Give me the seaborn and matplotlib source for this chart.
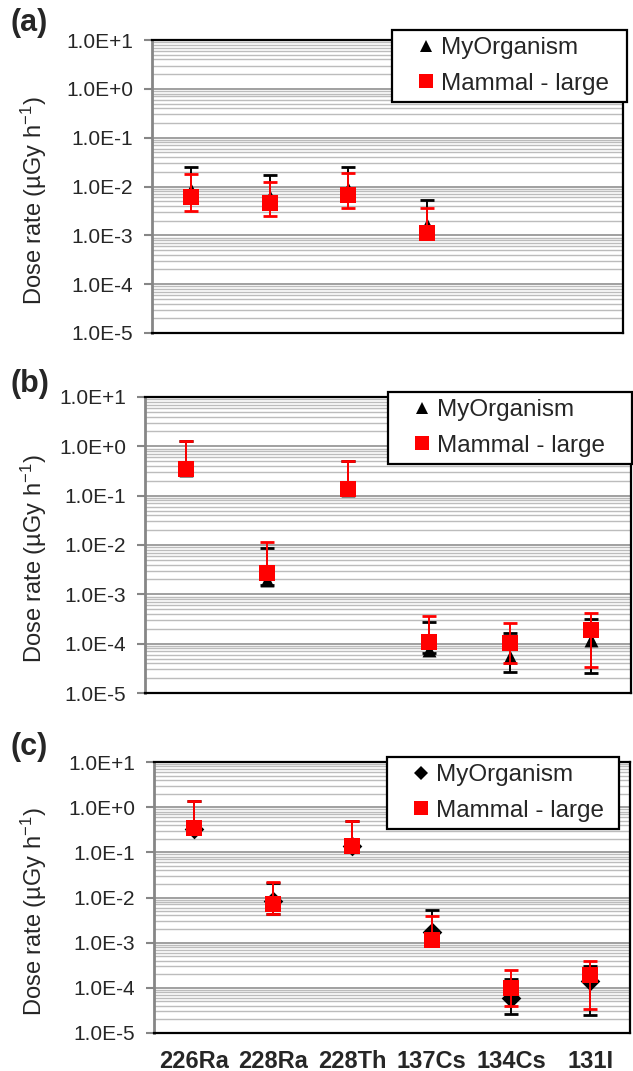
import numpy as np
import matplotlib
matplotlib.use('Agg')
import matplotlib.pyplot as plt
import seaborn as sns
from matplotlib.lines import Line2D
from matplotlib.ticker import FixedLocator, FuncFormatter, LogLocator, NullFormatter

nuclides = ['226Ra', '228Ra', '228Th', '137Cs', '134Cs', '131I']
nan = np.nan

# panel (a)
a_my_val = [8.5e-3, 6.1e-3, 8.9e-3, 1.6e-3, nan, nan]
a_my_lo = [5.0e-3, 3.8e-3, 5.2e-3, 1.0e-3, nan, nan]
a_my_hi = [2.45e-2, 1.7e-2, 2.5e-2, 5.3e-3, nan, nan]
a_mam_val = [6.1e-3, 4.5e-3, 6.7e-3, 1.12e-3, nan, nan]
a_mam_lo = [3.2e-3, 2.45e-3, 3.6e-3, 1.0e-3, nan, nan]
a_mam_hi = [1.77e-2, 1.23e-2, 1.85e-2, 3.7e-3, nan, nan]

# panel (b)
b_my_val = [0.33, 1.94e-3, 0.13, 7.4e-5, 5.4e-5, 1.18e-4]
b_my_lo = [0.27, 1.54e-3, 0.105, 6.5e-5, 2.68e-5, 2.49e-5]
b_my_hi = [1.3, 8.8e-3, 0.50, 2.77e-4, 1.66e-4, 3.14e-4]
b_mam_val = [0.347, 2.65e-3, 0.134, 1.09e-4, 1.01e-4, 1.88e-4]
b_mam_lo = [0.28, 2.2e-3, 0.11, 8.5e-5, 4.1e-5, 3.4e-5]
b_mam_hi = [1.30, 1.13e-2, 0.503, 3.66e-4, 2.57e-4, 4.1e-4]

# panel (c)
c_my_val = [0.33, 8.3e-3, 0.135, 1.69e-3, 5.9e-5, 1.43e-4]
c_my_lo = [0.27, 4.3e-3, 0.11, 1.2e-3, 2.6e-5, 2.51e-5]
c_my_hi = [1.36, 2.1e-2, 0.50, 5.4e-3, 1.56e-4, 3.08e-4]
c_mam_val = [0.354, 7.2e-3, 0.138, 1.15e-3, 9.8e-5, 1.95e-4]
c_mam_lo = [0.29, 4.3e-3, 0.115, 9.5e-4, 4.0e-5, 3.37e-5]
c_mam_hi = [1.36, 2.19e-2, 0.506, 3.84e-3, 2.47e-4, 3.98e-4]

sns.set_theme(style='white')
plt.rcParams['font.family'] = ['Liberation Sans', 'DejaVu Sans']
plt.rcParams['mathtext.fontset'] = 'custom'
plt.rcParams['mathtext.rm'] = 'Liberation Sans'
plt.rcParams['mathtext.default'] = 'rm'

W, H = 633, 1071
fig = plt.figure(figsize=(W / 100, H / 100), dpi=100)


def px_axes(left, top, right, bottom):
    return fig.add_axes([left / W, 1 - bottom / H, (right - left) / W, (bottom - top) / H])


def sci_fmt(v, pos):
    e = int(round(np.log10(v)))
    return '1.0E{:+d}'.format(e)


panels = [
    dict(tag='(a)', box=(152, 40, 623, 333), tagy=23, marker='^', ms=10, lms=9,
         my=(a_my_val, a_my_lo, a_my_hi), mam=(a_mam_val, a_mam_lo, a_mam_hi),
         legbox=(392, 30, 627), labx=49, xlabels=False),
    dict(tag='(b)', box=(145, 397, 631, 693), tagy=384, marker='^', ms=10, lms=9,
         my=(b_my_val, b_my_lo, b_my_hi), mam=(b_mam_val, b_mam_lo, b_mam_hi),
         legbox=(388, 392, 632), labx=49, xlabels=False),
    dict(tag='(c)', box=(154, 762, 630, 1033), tagy=747, marker='D', ms=10, lms=7.5,
         my=(c_my_val, c_my_lo, c_my_hi), mam=(c_mam_val, c_mam_lo, c_mam_hi),
         legbox=(387, 757, 619), labx=49, xlabels=True),
]

pos = np.arange(len(nuclides))

for p in panels:
    left, top, right, bottom = p['box']
    ax = px_axes(left, top, right, bottom)
    ax.set_yscale('log')
    ax.set_ylim(1e-5, 10)
    ax.set_xlim(-0.5, len(nuclides) - 0.5)

    my_val, my_lo, my_hi = [np.array(v) for v in p['my']]
    mam_val, mam_lo, mam_hi = [np.array(v) for v in p['mam']]

    ax.errorbar(pos, my_val, yerr=[my_val - my_lo, my_hi - my_val], fmt='none',
                ecolor='black', elinewidth=1.4, capsize=5.2, capthick=2, zorder=2)
    sns.scatterplot(x=pos, y=my_val, marker=p['marker'], color='black',
                    edgecolor='black', linewidth=0, s=p['ms'] ** 2, ax=ax, zorder=3)
    ax.errorbar(pos, mam_val, yerr=[mam_val - mam_lo, mam_hi - mam_val], fmt='none',
                ecolor='#ff0000', elinewidth=1.4, capsize=5.2, capthick=2, zorder=4)
    sns.scatterplot(x=pos, y=mam_val, marker='s', color='#ff0000',
                    edgecolor='#ff0000', linewidth=0, s=12 ** 2, ax=ax, zorder=5)

    ax.yaxis.set_major_locator(FixedLocator([10.0 ** k for k in range(-5, 2)]))
    ax.yaxis.set_major_formatter(FuncFormatter(sci_fmt))
    ax.yaxis.set_minor_locator(LogLocator(base=10, subs=np.arange(2, 10), numticks=20))
    ax.yaxis.set_minor_formatter(NullFormatter())
    ax.set_axisbelow(True)
    ax.yaxis.grid(True, which='major', color='#a0a0a0', lw=1.4)
    ax.yaxis.grid(True, which='minor', color='#bcbcbc', lw=1.0)
    ax.xaxis.grid(False)

    ax.tick_params(axis='y', which='major', direction='out', length=6, width=1.5,
                   color='#868686', pad=7.5, labelsize=15, left=True)
    ax.tick_params(axis='y', which='minor', length=0)
    ax.tick_params(axis='x', length=0, pad=12)
    ax.set_xticks(pos)
    if p['xlabels']:
        ax.set_xticklabels(nuclides, fontsize=17, fontweight='bold')
    else:
        ax.set_xticklabels([])

    for side in ['top', 'right', 'bottom']:
        ax.spines[side].set_color('black')
        ax.spines[side].set_linewidth(1.6)
    ax.spines['left'].set_color('#868686')
    ax.spines['left'].set_linewidth(2)

    ax.set_ylabel('Dose rate (µGy h$^{-1}$)', fontsize=17)
    ax.yaxis.set_label_coords((p['labx'] - left) / (right - left),
                              0.5 - 14 / (bottom - top))

    handles = [
        Line2D([], [], ls='none', marker=p['marker'], color='black',
               markersize=p['lms'], markeredgewidth=0),
        Line2D([], [], ls='none', marker='s', color='#ff0000',
               markersize=10, markeredgewidth=0),
    ]
    lx0, ltop, lx1 = p['legbox']
    anchor = ((lx0 - left) / (right - left), 1 + (top - ltop) / (bottom - top),
              (lx1 - lx0) / (right - left), 0)
    leg = ax.legend(handles, ['MyOrganism', 'Mammal - large'], loc='upper left',
                    bbox_to_anchor=anchor, mode='expand', borderaxespad=0,
                    fontsize=17.5, frameon=True, fancybox=False, framealpha=1,
                    borderpad=0.3, labelspacing=0.55, handlelength=2.2,
                    handletextpad=-0.5)
    leg.get_frame().set_edgecolor('black')
    leg.get_frame().set_linewidth(1.6)
    leg.set_zorder(10)

    fig.text(10 / W, 1 - p['tagy'] / H, p['tag'], fontsize=22, fontweight='bold',
             ha='left', va='center')

fig.savefig('out.png', dpi=100)
